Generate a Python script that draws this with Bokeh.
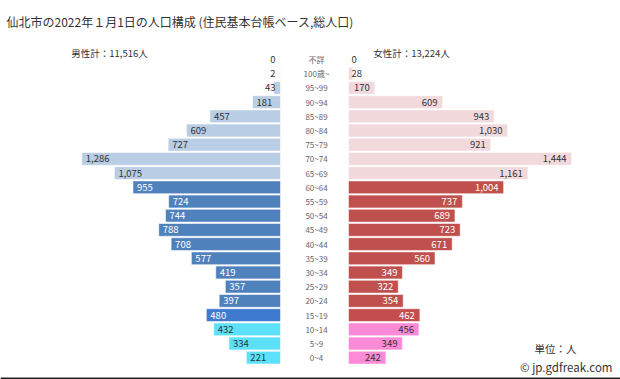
from bokeh.plotting import figure
from bokeh.models import ColumnDataSource, Range1d, Label, BoxAnnotation
from bokeh.core.properties import value
from bokeh.embed import file_html
from bokeh.resources import INLINE

# ---- data ----
categories = ["不詳", "100歳~", "95~99", "90~94", "85~89", "80~84", "75~79", "70~74",
              "65~69", "60~64", "55~59", "50~54", "45~49", "40~44", "35~39", "30~34",
              "25~29", "20~24", "15~19", "10~14", "5~9", "0~4"]
male = [0, 2, 43, 181, 457, 609, 727, 1286, 1075, 955, 724, 744, 788, 708, 577,
        419, 357, 397, 480, 432, 334, 221]
female = [0, 28, 170, 609, 943, 1030, 921, 1444, 1161, 1004, 737, 689, 723, 671, 560,
          349, 322, 354, 462, 456, 349, 242]
groups = ["old"] * 9 + ["work"] * 9 + ["teen"] + ["young"] * 3

title_text = "仙北市の2022年１月1日の人口構成 (住民基本台帳ベース,総人口)"
male_total_text = "男性計：11,516人"
female_total_text = "女性計：13,224人"
unit_text = "単位：人"
credit_text = "© jp.gdfreak.com"

# ---- styles ----
male_fill = {"old": "#b9cde5", "work": "#4f81bd", "teen": "#3e7bd0", "young": "#5de1fa"}
female_fill = {"old": "#f2d9db", "work": "#c0504d", "teen": "#c24e4e", "young": "#fc8ad6"}
male_txt = {"old": "#333333", "work": "#ffffff", "teen": "#ffffff", "young": "#333333"}
female_txt = {"old": "#333333", "work": "#ffffff", "teen": "#ffffff", "young": "#333333"}
FONT = "Noto Sans CJK JP"

W, H = 620, 379
S = 0.1545          # px per person
CX = 314            # px of centre
HALF_PX = 34        # half gap in px
ROW0 = 59           # px of first row centre
ROW_H = 14.2        # px per row
HALF = HALF_PX / S

p = figure(width=W, height=H, output_backend="svg", toolbar_location=None,
           x_range=Range1d(-CX / S, (W - CX) / S),
           y_range=Range1d(-(H - ROW0) / ROW_H, ROW0 / ROW_H),
           x_axis_location=None, y_axis_location=None, min_border=0,
           background_fill_color="white", border_fill_color="white")
p.outline_line_color = None
p.grid.visible = False

ys = [-i for i in range(len(categories))]

msrc = ColumnDataSource(dict(
    y=ys,
    left=[-(HALF + v) for v in male],
    right=[-HALF] * len(male),
    color=[male_fill[g] for g in groups]))
fsrc = ColumnDataSource(dict(
    y=ys,
    left=[HALF] * len(female),
    right=[HALF + v for v in female],
    color=[female_fill[g] for g in groups]))

for src in (msrc, fsrc):
    p.hbar(y="y", left="left", right="right", height=0.9, source=src,
           fill_color="color", line_color="white", line_alpha=0.55, line_width=1)

# value labels
lab = {"left": dict(x=[], y=[], t=[], c=[], o=[]),
       "right": dict(x=[], y=[], t=[], c=[], o=[])}
for i, (v, g) in enumerate(zip(male, groups)):
    if v * S >= 18:
        d = lab["left"]; d["x"].append(-(HALF + v)); d["o"].append(4); d["c"].append(male_txt[g])
    else:
        d = lab["right"]; d["x"].append(-HALF); d["o"].append(-5); d["c"].append("#333333")
    d["y"].append(-i); d["t"].append(f"{v:,}")
for i, (v, g) in enumerate(zip(female, groups)):
    if v * S >= 18:
        d = lab["right"]; d["x"].append(HALF + v); d["o"].append(-5); d["c"].append(female_txt[g])
    else:
        d = lab["left"]; d["x"].append(HALF); d["o"].append(3); d["c"].append("#333333")
    d["y"].append(-i); d["t"].append(f"{v:,}")

for align, d in lab.items():
    src = ColumnDataSource(dict(x=d["x"], y=d["y"], t=d["t"], c=d["c"], o=d["o"]))
    p.text(x="x", y="y", text="t", source=src, text_align=align, text_baseline="middle",
           x_offset="o", text_color="c", text_font=value(FONT), text_font_size="9.5px")

csrc = ColumnDataSource(dict(x=[0] * len(categories), y=ys, t=categories))
p.text(x="x", y="y", text="t", source=csrc, text_align="center", text_baseline="middle",
       x_offset=2, text_color="#666666", text_font=value(FONT), text_font_size="8px")

# annotations
p.add_layout(Label(x=6, y=H - 21, x_units="screen", y_units="screen", text=title_text,
                   text_baseline="middle", text_font=FONT, text_font_size="12px",
                   text_color="#333333"))
p.add_layout(Label(x=109, y=H - 52, x_units="screen", y_units="screen", text=male_total_text,
                   text_align="center", text_baseline="middle", text_font=FONT,
                   text_font_size="9.5px", text_color="#333333"))
p.add_layout(Label(x=411, y=H - 52, x_units="screen", y_units="screen", text=female_total_text,
                   text_align="center", text_baseline="middle", text_font=FONT,
                   text_font_size="9.5px", text_color="#333333"))
p.add_layout(Label(x=555, y=H - 348, x_units="screen", y_units="screen", text=unit_text,
                   text_align="center", text_baseline="middle", text_font=FONT,
                   text_font_size="10.5px", text_color="#333333"))
p.add_layout(Label(x=612, y=H - 366, x_units="screen", y_units="screen", text=credit_text,
                   text_align="right", text_baseline="middle", text_font=FONT,
                   text_font_size="11.5px", text_color="#333333"))
p.add_layout(BoxAnnotation(bottom=0, top=2, bottom_units="screen", top_units="screen",
                           fill_color="#222222", fill_alpha=1, line_alpha=0))

open("out.html", "w").write(file_html(p, INLINE))
